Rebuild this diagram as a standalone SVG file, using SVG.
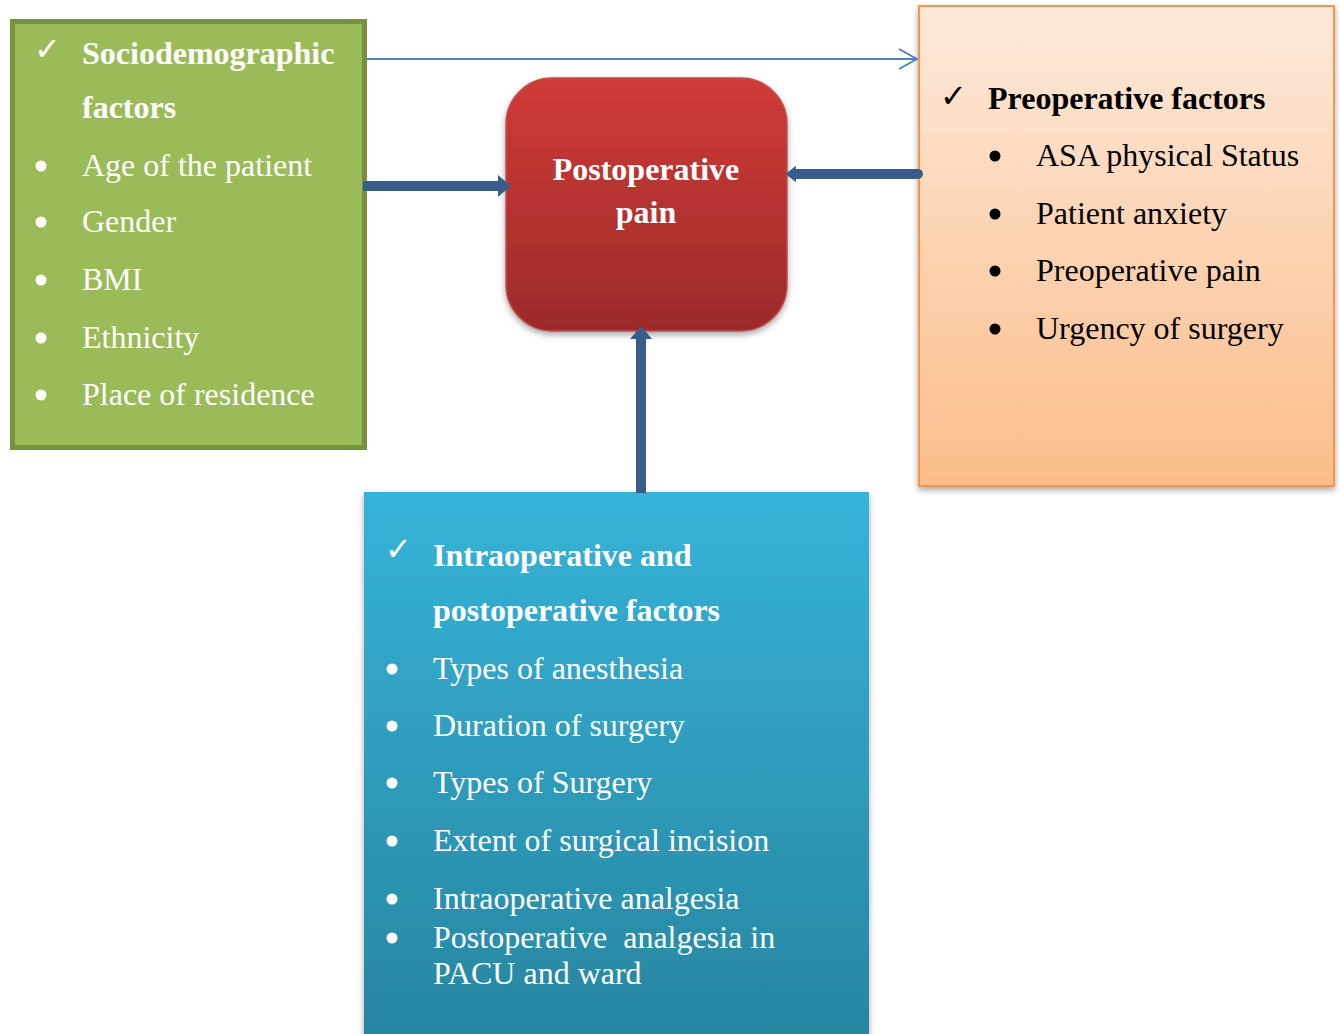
<svg xmlns="http://www.w3.org/2000/svg" width="1340" height="1034" viewBox="0 0 1340 1034">
<style>
.t{font-family:"Liberation Serif","Times New Roman",serif;font-size:32px;white-space:pre}
.b{font-weight:bold}
.w{fill:#ffffff}
.k{fill:#000000}
.ck{font-family:"DejaVu Sans",sans-serif;font-size:32px}
.thick{fill:none;stroke:#385d8a;stroke-width:10}
.thin{fill:none;stroke:#4f81bd;stroke-width:2}
</style>
<defs>
<linearGradient id="gRed" x1="0" y1="0" x2="0" y2="1">
<stop offset="0" stop-color="#cf3b38"/>
<stop offset="1" stop-color="#9c2a29"/>
</linearGradient>
<linearGradient id="gOrange" x1="0" y1="0" x2="0" y2="1">
<stop offset="0" stop-color="#fde9da"/>
<stop offset="1" stop-color="#fbbd8a"/>
</linearGradient>
<linearGradient id="gBlue" x1="0" y1="0" x2="0" y2="1">
<stop offset="0" stop-color="#36b3d9"/>
<stop offset="1" stop-color="#27849e"/>
</linearGradient>
<filter id="sh" x="-10%" y="-10%" width="120%" height="120%">
<feDropShadow dx="0" dy="3" stdDeviation="3" flood-color="#000" flood-opacity="0.35"/>
</filter>
<marker id="tri" viewBox="0 -11 13 22" refX="0" refY="0" markerWidth="13" markerHeight="22" markerUnits="userSpaceOnUse" orient="auto">
<path d="M0,-11 L13,0 L0,11 z" fill="#385d8a"/>
</marker>
<marker id="dia" viewBox="0 -8 10 16" refX="0" refY="0" markerWidth="10" markerHeight="16" markerUnits="userSpaceOnUse" orient="auto">
<path d="M0,-7 L9,0 L0,7 z" fill="#385d8a" stroke="#385d8a" stroke-width="2" stroke-linejoin="round"/>
</marker>
<marker id="open" viewBox="-20 -12 22 24" refX="0" refY="0" markerWidth="22" markerHeight="24" markerUnits="userSpaceOnUse" orient="auto">
<path d="M-18,-10 L0,0 L-18,10" fill="none" stroke="#4f81bd" stroke-width="2"/>
</marker>
</defs>
<rect width="1340" height="1034" fill="#ffffff"/>

<g id="node-sociodemographic">
<rect x="12.5" y="21.5" width="352" height="426" fill="#9bbb59" stroke="#77923c" stroke-width="5"/>
<text class="ck w" x="34" y="60">✓</text>
<text class="t b w" x="82" y="64">Sociodemographic</text>
<text class="t b w" x="82" y="118">factors</text>
<circle class="w" cx="41" cy="166" r="5.5"/>
<text class="t w" x="82" y="176">Age of the patient</text>
<circle class="w" cx="41" cy="222" r="5.5"/>
<text class="t w" x="82" y="232">Gender</text>
<circle class="w" cx="41" cy="280" r="5.5"/>
<text class="t w" x="82" y="290">BMI</text>
<circle class="w" cx="41" cy="338" r="5.5"/>
<text class="t w" x="82" y="348">Ethnicity</text>
<circle class="w" cx="41" cy="395" r="5.5"/>
<text class="t w" x="82" y="405">Place of residence</text>
</g>

<g id="node-preoperative">
<rect x="919" y="6" width="415" height="480" fill="url(#gOrange)" stroke="#f79646" stroke-width="2" filter="url(#sh)"/>
<text class="ck k" x="940" y="107">✓</text>
<text class="t b k" x="988" y="109">Preoperative factors</text>
<circle class="k" cx="995" cy="156" r="5.5"/>
<text class="t k" x="1036" y="166">ASA physical Status</text>
<circle class="k" cx="995" cy="214" r="5.5"/>
<text class="t k" x="1036" y="224">Patient anxiety</text>
<circle class="k" cx="995" cy="271" r="5.5"/>
<text class="t k" x="1036" y="281">Preoperative pain</text>
<circle class="k" cx="995" cy="329" r="5.5"/>
<text class="t k" x="1036" y="339">Urgency of surgery</text>
</g>

<g id="node-intraoperative">
<rect x="364" y="492" width="505" height="560" fill="url(#gBlue)" filter="url(#sh)"/>
<text class="ck w" x="385" y="560">✓</text>
<text class="t b w" x="433" y="566">Intraoperative and</text>
<text class="t b w" x="433" y="621">postoperative factors</text>
<circle class="w" cx="392" cy="669" r="5.5"/>
<text class="t w" x="433" y="679">Types of anesthesia</text>
<circle class="w" cx="392" cy="726" r="5.5"/>
<text class="t w" x="433" y="736">Duration of surgery</text>
<circle class="w" cx="392" cy="783" r="5.5"/>
<text class="t w" x="433" y="793">Types of Surgery</text>
<circle class="w" cx="392" cy="841" r="5.5"/>
<text class="t w" x="433" y="851">Extent of surgical incision</text>
<circle class="w" cx="392" cy="899" r="5.5"/>
<text class="t w" x="433" y="909">Intraoperative analgesia</text>
<circle class="w" cx="392" cy="938" r="5.5"/>
<text class="t w" x="433" y="948">Postoperative  analgesia in</text>
<text class="t w" x="433" y="984">PACU and ward</text>
</g>

<g id="node-postoperative-pain">
<rect x="506" y="78" width="281" height="253" rx="46" ry="46" fill="url(#gRed)" stroke="#c0504d" stroke-width="1.5" filter="url(#sh)"/>
<text class="t b w" x="646" y="180" text-anchor="middle">Postoperative</text>
<text class="t b w" x="646" y="223" text-anchor="middle">pain</text>
</g>

<g id="connectors">
<path class="thin" d="M367,59 H917" marker-end="url(#open)"/>
<path class="thick" d="M363,186 H498" marker-end="url(#tri)"/>
<path class="thick" d="M918,174 H796" stroke-linecap="round" marker-end="url(#dia)"/>
<path class="thick" d="M641,493 V339" marker-end="url(#tri)"/>
</g>
</svg>
